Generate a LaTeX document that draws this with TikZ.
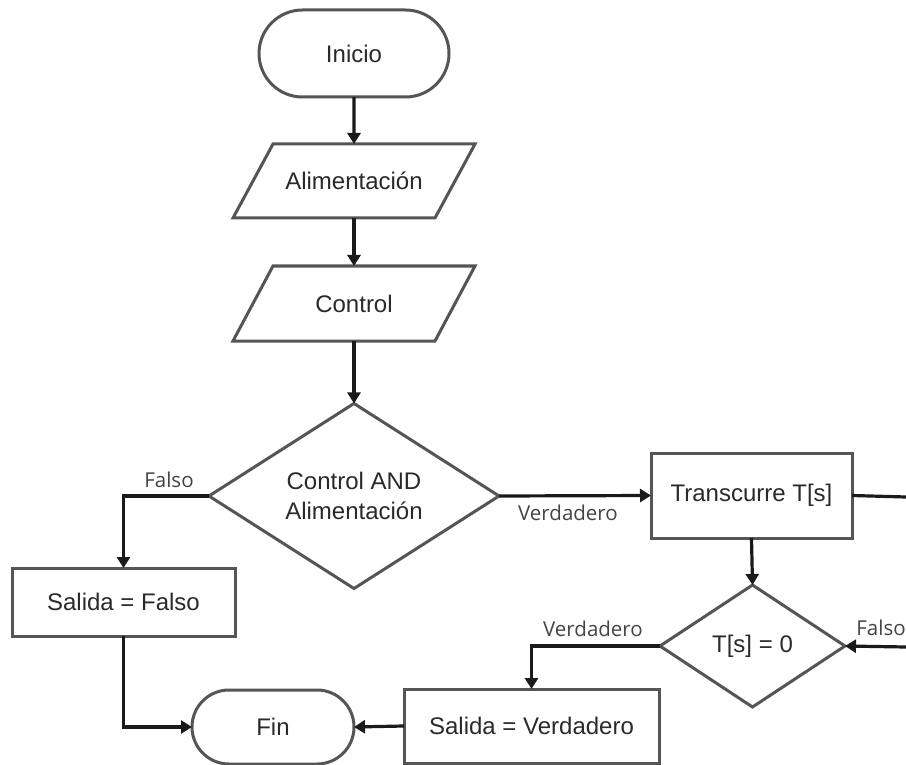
\documentclass[tikz,border=0pt]{standalone}
\usepackage{fontspec}
\setmainfont{Liberation Sans}
\newfontfamily\lblfont{Open Sans}
\usetikzlibrary{shapes.geometric,shapes.misc,arrows.meta}

\definecolor{edgegray}{HTML}{555555}
\definecolor{linkgray}{HTML}{1A1A1A}
\definecolor{txtgray}{HTML}{2A2A2A}
\definecolor{lblgray}{HTML}{444444}

\tikzset{
  base/.style={outer sep=0pt, inner sep=2pt, text=txtgray,
    font=\fontsize{24}{30}\selectfont, align=center},
  terminal/.style={base, rounded rectangle, draw=edgegray, line width=3pt},
  iobox/.style={base, rectangle},
  procbox/.style={base, rectangle, draw=edgegray, line width=3pt},
  decision/.style={base, diamond, draw=edgegray, line width=3pt, inner sep=0pt},
  slant/.style={draw=edgegray, line width=3pt, line join=miter},
  link/.style={draw=linkgray, line width=3.2pt,
    -{Triangle[length=11pt,width=13pt]}},
  plainlink/.style={draw=linkgray, line width=3.2pt},
  branch/.style={text=lblgray, font=\lblfont\fontsize{20.5}{24}\selectfont}
}

\begin{document}
\begin{tikzpicture}[x=1pt, y=-1pt]
  \useasboundingbox (0,0) rectangle (906,765);
  \fill[white] (0,0) rectangle (906,765);

  % start / input blocks
  \node[terminal, minimum width=194pt, minimum height=87pt] (inicio) at (354,53.5) {Inicio};
  \node[iobox, minimum width=242pt, minimum height=74pt] (alim) at (354,181) {Alimentación};
  \node[iobox, minimum width=242pt, minimum height=75pt] (ctrl) at (354,303.5) {Control};
  \foreach \n in {alim,ctrl}{
    \draw[slant] (\n.south west) -- ([xshift=40pt]\n.north west)
      -- (\n.north east) -- ([xshift=-40pt]\n.south east) -- cycle;
  }

  % decisions and processes
  \node[decision, minimum width=290pt, minimum height=176pt] (cond) at (354,496)
    {Control AND\\Alimentación};
  \node[procbox, minimum width=201pt, minimum height=85pt] (trans) at (751.5,495.5)
    {Transcurre T[s]};
  \node[decision, minimum width=185pt, minimum height=122pt] (tcond) at (752.5,646)
    {T[s] = 0};
  \node[procbox, minimum width=223pt, minimum height=68pt] (sf) at (123.5,602)
    {Salida = Falso};
  \node[procbox, minimum width=255pt, minimum height=74pt] (sv) at (531.5,726)
    {Salida = Verdadero};
  \node[terminal, minimum width=166pt, minimum height=74pt] (fin) at (273,727) {Fin};

  % loop ends leaving the sheet on the right
  \coordinate (loopout) at (906,497);
  \coordinate (loopin) at (906,647);

  % connectors
  \draw[link] (inicio) -- (alim);
  \draw[link] (alim) -- (ctrl);
  \draw[link] (ctrl) -- (cond);
  \draw[link] (cond.east) -- (trans.west);
  \draw[link] (cond.west) -| (sf.north);
  \draw[plainlink] (trans.east) -- (loopout);
  \draw[link] (trans.south) -- (tcond.north);
  \draw[link] (loopin) -- (tcond.east);
  \draw[link] (tcond.west) -| (sv.north);
  \draw[link] (sf.south) |- (fin.west);
  \draw[link] (sv.west) -- (fin.east);

  % branch labels
  \node[branch] (lf1) at (169,480) {Falso};
  \node[branch] (lv1) at (568,513) {Verdadero};
  \node[branch] (lv2) at (593,629) {Verdadero};
  \node[branch] (lf2) at (881,628) {Falso};
\end{tikzpicture}
\end{document}
